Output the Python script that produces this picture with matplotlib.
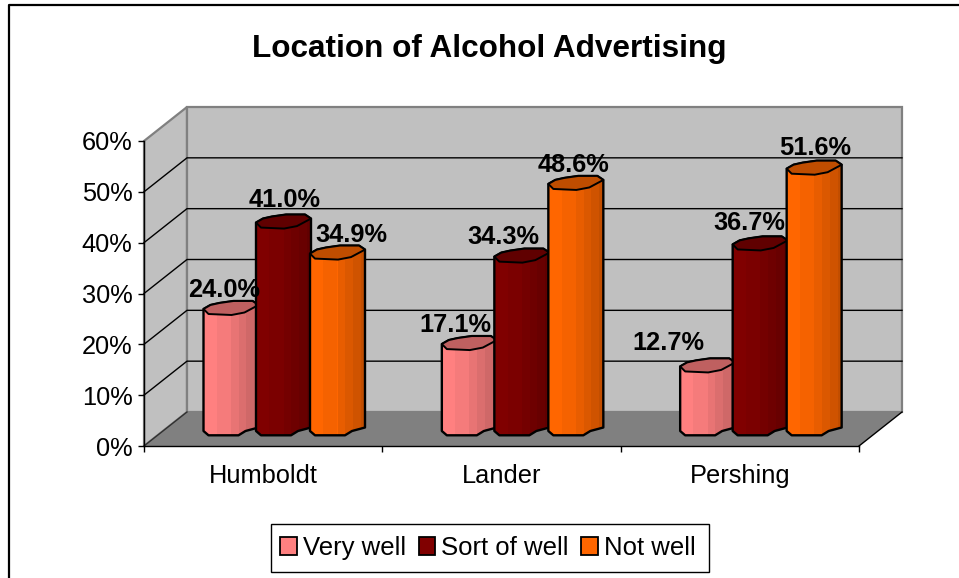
import matplotlib
matplotlib.use("Agg")
import matplotlib.pyplot as plt
from matplotlib.lines import Line2D
from matplotlib.patches import Polygon, Rectangle
from matplotlib.colors import to_rgb

plt.rcParams['font.family'] = ['Liberation Sans', 'DejaVu Sans']

# ---- data ----
categories = ["Humboldt", "Lander", "Pershing"]
very_well = [24.0, 17.1, 12.7]
sort_of_well = [41.0, 34.3, 36.7]
not_well = [34.9, 48.6, 51.6]
series_names = ["Very well", "Sort of well", "Not well"]
y_ticks = [0, 10, 20, 30, 40, 50, 60]

# ---- style ----
series_values = [very_well, sort_of_well, not_well]
colors = ["#FF8080", "#800000", "#FF6600"]
W, H = 959, 578
L, R, T, B = 144, 859, 141, 446       # front plane in pixels
PX_X = (R - L) / 3
PX_Y = (B - T) / 60
DEPTH_X, DEPTH_Y = 43, 34             # wall depth in pixels
BAR_STARTS = [59.5, 112, 166]         # px from category start
BAR_W = 55
BASE_DY = 15                          # bar base depth offset
LABEL_NUDGE = [[(-7, 19), (1, 23), (14, 19)],
               [(-14, 19), (-18, 20), (-2, 19)],
               [(-39, 23), (-11, 21), (1, 21)]]
FS = 18.3

fig = plt.figure(figsize=(W / 100, H / 100), dpi=100, facecolor="white")
ax = fig.add_axes([L / W, 1 - B / H, (R - L) / W, (B - T) / H])
ax.set_xlim(0, 3)
ax.set_ylim(0, 60)
ax.patch.set_visible(False)


def P(x, y, dx=0.0, dy=0.0):
    """Data point shifted by a pixel offset (dy positive = upward)."""
    return (x + dx / PX_X, y + dy / PX_Y)


def poly(points, **kw):
    kw.setdefault("clip_on", False)
    p = Polygon(points, closed=True, **kw)
    ax.add_patch(p)
    return p


# walls and floor
poly([P(0, 0), P(0, 0, DEPTH_X, DEPTH_Y), P(0, 60, DEPTH_X, DEPTH_Y), P(0, 60)],
     facecolor="#C0C0C0", edgecolor="#808080", lw=1.6, zorder=1)
poly([P(0, 0, DEPTH_X, DEPTH_Y), P(3, 0, DEPTH_X, DEPTH_Y), P(3, 60, DEPTH_X, DEPTH_Y), P(0, 60, DEPTH_X, DEPTH_Y)],
     facecolor="#C0C0C0", edgecolor="#808080", lw=1.6, zorder=1)
poly([P(0, 0), P(3, 0), P(3, 0, DEPTH_X, DEPTH_Y), P(0, 0, DEPTH_X, DEPTH_Y)],
     facecolor="#808080", edgecolor="none", zorder=1.2)
ax.plot(*zip(P(3, 0), P(3, 0, DEPTH_X, DEPTH_Y)), color="black", lw=1.0, clip_on=False, zorder=1.3)
ax.plot(*zip(P(0, 0), P(0, 0, DEPTH_X, DEPTH_Y)), color="#303030", lw=1.0, clip_on=False, zorder=1.3)
for v in y_ticks[1:-1]:
    a, b, c = P(0, v), P(0, v, DEPTH_X, DEPTH_Y), P(3, v, DEPTH_X, DEPTH_Y)
    ax.plot([a[0], b[0], c[0]], [a[1], b[1], c[1]], color="black", lw=1.0, clip_on=False, zorder=1.1)

# axes
for s in ("top", "right"):
    ax.spines[s].set_visible(False)
for s in ("left", "bottom"):
    ax.spines[s].set_linewidth(1.0)
ax.set_yticks(y_ticks)
ax.set_yticklabels([f"{v}%" for v in y_ticks], fontsize=FS)
ax.set_xticks([0, 1, 2, 3])
ax.set_xticklabels([])
ax.set_xticks([0.5, 1.5, 2.5], minor=True)
ax.set_xticklabels(categories, minor=True, fontsize=FS)
ax.tick_params(axis="x", which="major", length=4.3, width=1.0)
ax.tick_params(axis="x", which="minor", length=0, pad=13)
ax.tick_params(axis="y", length=4.3, width=1.0, pad=4)

CAP = [(0, 0), (5, 5), (28, 6), (41, 3.5), (55, -4), (49, -8), (30, -8), (16, -6), (7, -4)]
TOP_EDGE = [(0, 0), (7, -4), (16, -6), (30, -8), (49, -8), (55, -4)]
BOTTOM = [(55, -3.5), (42, 0), (35, 4.3), (5, 4.3), (0, 0)]
BANDS = [0, .24, .5, .64, .78, .93, 1.0]
SHADES = [1.0, .96, .91, .86, .81, .76]

z = 3.0
for c in range(3):
    for s in range(3):
        v = series_values[s][c]
        col = to_rgb(colors[s])
        x0 = BAR_STARTS[s]
        top = [P(c, v, x0 + px, BASE_DY - py) for px, py in TOP_EDGE]
        bot = [P(c, 0, x0 + px, BASE_DY - py) for px, py in BOTTOM]
        body = poly(top + bot, facecolor=col, edgecolor="none", zorder=z)
        for i, sh in enumerate(SHADES):
            xa = c + (x0 + BANDS[i] * BAR_W) / PX_X
            wd = (BANDS[i + 1] - BANDS[i]) * BAR_W / PX_X
            r = Rectangle((xa, -5), wd, 70, facecolor=tuple(k * sh for k in col), edgecolor="none", zorder=z + .01)
            ax.add_patch(r)
            r.set_clip_path(body)
        poly(top + bot, facecolor="none", edgecolor="black", lw=1.7, joinstyle="round", zorder=z + .02)
        capc = tuple(k * .75 for k in col)
        poly([P(c, v, x0 + px, BASE_DY - py) for px, py in CAP],
             facecolor=capc, edgecolor="black", lw=1.4, joinstyle="round", zorder=z + .03)
        z += .1

for c in range(3):
    for s in range(3):
        v = series_values[s][c]
        ndx, ndy = LABEL_NUDGE[c][s]
        x, y = P(c, v, BAR_STARTS[s] + BAR_W / 2 + ndx, BASE_DY + ndy)
        ax.text(x, y, f"{v:.1f}%", ha="center", va="center", fontsize=FS, fontweight="bold",
                color="black", zorder=10, clip_on=False)

fig.text(489 / W, 1 - 49 / H, "Location of Alcohol Advertising", ha="center", va="center",
         fontsize=22.7, fontweight="bold")

# chart frame: only the left and top edges fall inside the picture
fig.add_artist(Line2D([9 / W, 9 / W, 1], [0, 1 - 4.5 / H, 1 - 4.5 / H], transform=fig.transFigure,
                      color="black", lw=1.6))

# legend box and entries
fig.add_artist(Rectangle((271 / W, 1 - 572 / H), 438 / W, 48 / H, transform=fig.transFigure,
                         facecolor="white", edgecolor="black", lw=1.0))
handles = [Rectangle((0, 0), 1, 1, facecolor=col, edgecolor="black", lw=1.3) for col in colors]
leg = fig.legend(handles, series_names, ncol=3, loc="center", bbox_to_anchor=(488 / W, 1 - 548 / H),
                 fontsize=18.5, frameon=False,
                 handlelength=0.66, handleheight=0.66, handletextpad=0.23, columnspacing=0.47,
                 borderpad=0, borderaxespad=0)

fig.savefig("out.png", dpi=100)
